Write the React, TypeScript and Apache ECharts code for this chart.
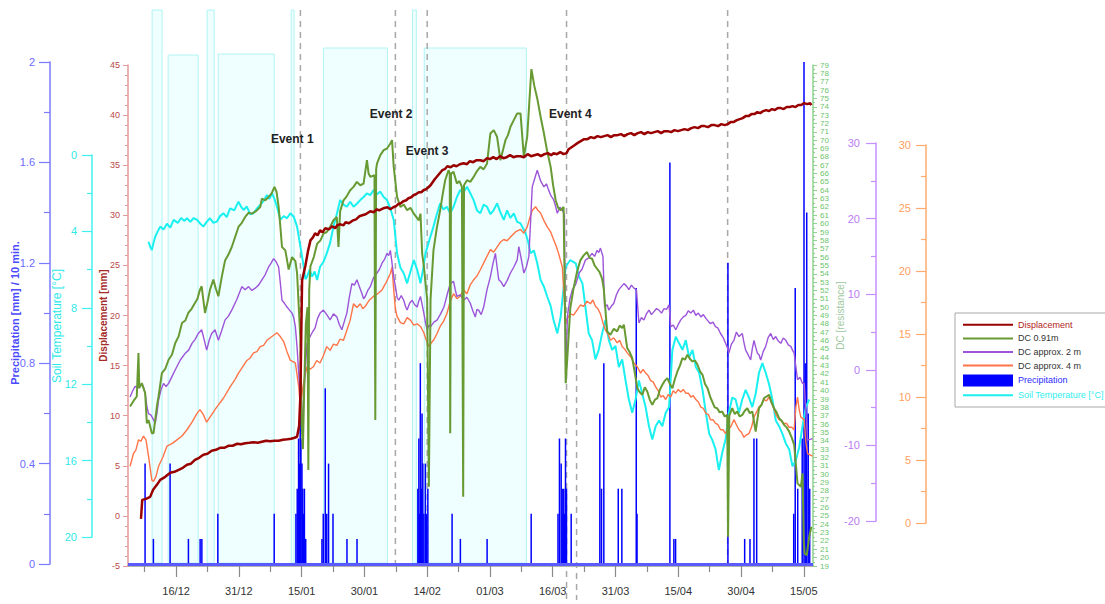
import React, { useEffect, useRef } from 'react';
import * as echarts from 'echarts';

const FONT = '"Liberation Sans", Arial, sans-serif';

// x values are days counted from 16/12
const X_MIN = -11.5;
const X_MAX = 152.2;
const majorDays = [0, 15, 30, 45, 60, 75, 90, 105, 120, 135, 150];
const dateLabels = ['16/12', '31/12', '15/01', '30/01', '14/02', '01/03', '16/03', '31/03', '15/04', '30/04', '15/05'];
const minorDays = [-7.5, 7.5, 22.5, 37.5, 52.5, 67.5, 82.5, 97.5, 112.5, 127.5, 142.5];

// Displacement [mm]
const displacement = [
  [-8.4, -0.3], [-8.1, 1.6], [-7.2, 1.7], [-6.2, 1.9], [-5.5, 2.6], [-4.6, 3.1], [-3.8, 3.6], [-2.6, 3.9], [-1.4, 4.3],
  [-0.4, 4.4], [0.6, 4.6], [1.6, 4.8], [2.6, 5.1], [3.5, 5.2], [4.5, 5.6], [5.5, 5.8], [6.5, 6.1], [7.5, 6.2], [8.5, 6.5],
  [9.5, 6.6], [10.5, 6.8], [11.5, 6.8], [12.5, 7.0], [13.5, 7.0], [14.6, 7.2], [15.5, 7.15], [16.5, 7.25], [17.5, 7.3],
  [18.4, 7.35], [19.5, 7.3], [20.5, 7.4], [21.5, 7.5], [22.5, 7.45], [23.5, 7.5], [24.5, 7.5], [25.5, 7.6], [26.6, 7.65],
  [27.5, 7.7], [28.3, 7.8], [28.9, 7.9], [29.4, 9.0], [29.7, 12.0], [29.9, 18.0], [30.1, 23.5],
  [30.9, 25.0], [31.5, 26.4], [32.1, 27.5], [32.7, 27.8], [33.2, 28.2], [33.8, 28.0], [34.4, 28.5], [35.0, 28.3],
  [35.6, 28.7], [36.5, 28.6], [37.3, 28.9], [38.0, 28.7], [38.5, 29.0], [39.3, 29.1], [40.0, 29.0], [40.5, 29.3],
  [41.3, 29.2], [42.3, 29.5], [43.0, 29.6], [43.8, 29.9], [44.5, 30.0], [45.3, 30.1], [46.4, 30.4], [47.2, 30.3],
  [48.0, 30.6], [48.5, 30.5], [49.5, 30.7], [50.5, 30.8], [51.2, 30.6], [51.9, 30.8], [52.5, 30.9], [53.0, 31.1],
  [53.7, 31.2], [54.3, 31.4], [55.0, 31.5], [55.5, 31.7], [56.2, 31.8], [56.7, 32.0], [57.3, 32.1], [58.0, 32.3],
  [58.6, 32.3], [59.1, 32.5], [59.7, 32.6], [60.3, 32.8], [60.8, 33.0], [61.3, 33.3], [61.8, 33.6], [62.4, 33.9],
  [63.0, 34.2], [63.6, 34.5], [64.2, 34.6], [64.8, 34.9], [65.6, 34.8], [66.3, 35.0], [67.0, 34.9], [67.8, 35.1],
  [68.7, 35.2], [69.5, 35.1], [70.2, 35.4], [71.0, 35.3], [71.8, 35.5], [72.7, 35.5], [73.5, 35.4], [74.3, 35.7],
  [75.0, 35.6], [75.8, 35.8], [76.6, 35.6], [77.4, 35.9], [78.2, 35.7], [79.0, 35.8], [79.8, 36.0], [80.6, 35.8],
  [81.4, 35.9], [82.3, 35.9], [83.1, 35.8], [84.0, 36.1], [84.8, 35.9], [85.6, 36.0], [86.4, 36.1], [87.2, 35.9],
  [88.0, 36.1], [88.8, 36.2], [89.6, 36.0], [90.2, 36.2], [91.0, 36.1], [91.8, 36.3], [92.6, 36.1], [93.3, 36.2],
  [93.8, 36.6], [94.5, 36.8], [95.2, 37.0], [95.9, 37.2], [96.7, 37.4], [97.5, 37.6], [98.3, 37.6], [99.1, 37.8],
  [99.9, 37.7], [100.7, 37.9], [101.5, 37.8], [102.3, 37.9], [103.1, 38.0], [103.9, 37.8], [104.7, 38.0], [105.5, 38.0],
  [106.3, 38.1], [107.1, 37.9], [107.9, 38.1], [108.7, 38.2], [109.5, 38.0], [110.3, 38.2], [111.1, 38.3], [111.9, 38.1],
  [112.7, 38.3], [113.5, 38.2], [114.3, 38.3], [115.1, 38.4], [115.9, 38.2], [116.7, 38.4], [117.5, 38.4], [118.3, 38.3],
  [119.1, 38.5], [119.9, 38.4], [120.7, 38.5], [121.5, 38.6], [122.3, 38.5], [123.1, 38.7], [123.9, 38.8], [124.7, 38.7],
  [125.5, 38.9], [126.3, 38.9], [127.1, 38.8], [127.9, 39.0], [128.7, 39.0], [129.5, 38.9], [130.3, 39.1], [131.1, 39.0],
  [131.8, 39.1], [132.5, 39.3], [133.2, 39.3], [134.0, 39.5], [134.7, 39.6], [135.4, 39.7], [136.1, 39.9], [136.8, 39.9],
  [137.5, 40.1], [138.2, 40.1], [138.9, 40.3], [139.6, 40.2], [140.3, 40.4], [141.0, 40.5], [141.7, 40.4], [142.4, 40.6],
  [143.1, 40.5], [143.8, 40.7], [144.5, 40.7], [145.2, 40.6], [145.9, 40.8], [146.6, 40.8], [147.3, 40.9], [148.0, 40.8],
  [148.7, 41.0], [149.4, 41.0], [150.1, 41.2], [150.8, 41.1], [151.5, 41.2], [151.8, 41.0],
];

// DC 0.91m [resistance]
const dc091 = [
  [-11.0, 38.1], [-10.0, 38.9], [-9.4, 39.3], [-9.0, 44.5], [-8.8, 40.3], [-8.2, 40.9], [-7.4, 39.7], [-7.0, 36.1],
  [-6.6, 36.5], [-5.8, 34.9], [-5.4, 34.9], [-4.6, 38.1], [-4.2, 39.3], [-3.4, 42.1], [-2.6, 42.6], [-1.8, 43.7],
  [-1.0, 44.3], [-0.2, 45.7], [0.6, 46.5], [1.4, 48.1], [2.2, 48.4], [2.9, 49.3], [3.7, 49.8], [4.5, 50.5], [5.1, 51.0],
  [5.7, 52.1], [6.1, 52.5], [6.5, 50.9], [6.9, 49.3], [7.5, 50.6], [8.1, 52.1], [8.9, 53.3], [9.5, 52.2], [10.1, 51.3],
  [10.9, 53.6], [11.7, 55.6], [12.5, 56.3], [13.3, 57.2], [14.1, 58.4], [14.9, 59.6], [15.7, 60.1], [16.5, 60.8],
  [17.3, 61.3], [18.1, 61.2], [19.1, 61.5], [20.1, 62.0], [20.5, 63.0], [21.3, 62.8], [22.1, 63.2], [22.8, 63.6],
  [23.5, 64.4], [24.0, 63.8], [24.5, 62.0], [24.9, 59.7], [25.3, 57.2], [26.1, 56.8], [26.9, 54.5], [27.7, 56.0],
  [28.5, 55.5], [28.9, 54.1], [29.7, 46.1], [30.0, 36.0], [30.3, 33.0], [30.6, 40.0], [31.0, 48.0], [31.4, 50.0],
  [31.6, 30.5], [31.8, 52.0], [32.1, 54.9], [32.9, 56.0], [33.7, 57.6], [34.5, 58.0], [35.2, 58.8], [36.0, 59.0],
  [36.8, 59.6], [37.6, 60.4], [38.4, 60.8], [38.8, 57.2], [39.2, 61.5], [40.0, 62.8], [40.8, 63.3], [41.6, 64.0],
  [42.4, 64.4], [43.2, 65.0], [44.0, 64.6], [44.8, 64.8], [45.6, 67.6], [46.0, 66.0], [46.4, 65.6], [47.4, 65.8],
  [47.6, 36.5], [47.8, 66.5], [48.0, 67.2], [48.8, 68.2], [49.6, 68.8], [50.4, 69.0], [51.2, 69.6], [51.6, 70.0],
  [52.0, 66.8], [52.8, 63.2], [53.6, 62.0], [54.4, 62.3], [55.2, 61.6], [56.0, 61.9], [56.8, 61.2], [58.0, 60.4],
  [58.4, 61.2], [58.8, 56.4], [59.2, 54.9], [60.0, 50.9], [60.4, 28.5], [60.8, 50.9], [61.5, 56.8], [62.3, 59.5],
  [63.1, 61.6], [63.7, 63.5], [64.3, 65.2], [65.1, 66.4], [65.4, 66.0], [65.5, 34.9], [65.7, 66.0], [66.3, 66.2],
  [67.1, 64.8], [67.7, 65.1], [68.3, 64.4], [68.6, 27.3], [68.8, 64.6], [69.5, 65.2], [70.3, 65.0], [71.1, 65.6],
  [71.9, 66.3], [72.7, 66.8], [73.5, 66.5], [74.3, 67.2], [75.1, 70.8], [75.9, 71.2], [76.7, 70.4], [77.5, 67.6],
  [78.1, 68.8], [78.7, 70.0], [79.3, 70.6], [79.9, 71.6], [80.7, 72.4], [81.5, 73.2], [82.3, 73.2], [83.1, 68.0],
  [83.9, 70.4], [84.4, 74.5], [84.9, 78.5], [85.6, 76.5], [86.3, 75.0], [87.1, 72.8], [87.9, 70.8], [88.7, 68.6],
  [89.5, 66.8], [90.1, 64.6], [90.7, 62.8], [91.3, 61.9], [91.9, 61.6], [92.6, 62.0],
  [93.0, 46.9], [93.1, 40.9], [93.5, 44.0], [94.2, 49.9], [95.0, 52.3], [95.8, 54.2], [96.6, 55.6], [97.4, 56.2],
  [98.2, 56.6], [98.8, 55.9], [99.4, 55.8], [100.0, 55.0], [100.6, 54.6], [101.2, 54.2], [101.8, 53.4], [102.2, 52.2],
  [103.0, 47.1], [103.8, 46.7], [104.6, 47.4], [105.4, 47.1], [106.0, 47.8], [106.6, 47.5], [107.0, 47.9], [107.8, 45.1],
  [108.4, 44.6], [109.0, 43.9], [109.6, 42.2], [110.2, 40.3], [110.8, 39.8], [111.4, 39.5], [112.0, 40.4], [112.6, 39.9],
  [113.2, 38.9], [113.8, 38.3], [114.4, 38.9], [115.0, 39.1], [115.6, 40.1], [116.2, 40.7], [116.8, 41.2], [117.4, 41.5],
  [118.0, 40.8], [118.6, 40.3], [119.2, 41.4], [119.8, 42.3], [120.4, 43.0], [121.0, 43.9], [121.6, 43.7], [122.2, 44.3],
  [122.8, 43.8], [123.4, 43.5], [124.0, 43.6], [124.6, 43.1], [125.2, 42.3], [125.8, 41.9], [126.4, 40.8], [127.0, 40.3],
  [127.6, 39.3], [128.1, 38.7], [128.7, 38.0], [129.3, 37.9], [129.9, 37.4], [130.5, 37.5], [131.1, 36.9], [131.7, 37.1],
  [131.9, 22.5], [132.2, 37.0], [132.9, 37.9], [133.5, 37.2], [134.1, 37.5], [134.7, 36.9], [135.3, 37.1], [135.9, 37.6],
  [136.5, 37.9], [137.1, 37.3], [137.7, 37.5], [138.5, 35.1], [139.3, 37.9], [139.9, 38.3], [140.5, 39.1], [141.1, 39.3],
  [141.7, 39.5], [142.3, 38.6], [142.9, 37.9], [143.5, 37.4], [144.1, 36.7], [144.7, 36.4], [145.3, 35.9], [145.9, 35.6],
  [146.5, 35.1], [147.1, 34.4], [147.7, 33.5], [148.1, 31.2], [148.5, 28.9], [149.3, 28.5], [149.7, 30.1],
  [150.0, 22.0], [150.2, 20.5], [150.7, 20.3], [151.3, 22.5], [151.8, 23.7],
];

// DC approx. 2 m
const dc2m = [
  [-11.0, -3.6], [-10.4, -2.8], [-9.8, -2.2], [-9.0, -2.4], [-8.2, -1.8], [-7.8, -2.3], [-7.4, -3.1], [-7.0, -4.8],
  [-6.6, -5.8], [-6.0, -6.0], [-5.4, -6.6], [-5.0, -7.1], [-4.6, -5.8], [-4.2, -4.0], [-3.6, -2.6], [-3.0, -1.8],
  [-2.4, -2.2], [-1.8, -1.8], [-1.0, -0.9], [-0.2, 0.0], [1.0, 1.3], [2.2, 2.2], [3.0, 2.6], [3.8, 3.5], [4.5, 4.0],
  [5.3, 4.8], [6.1, 5.3], [6.7, 4.0], [7.3, 2.6], [7.9, 3.9], [8.5, 4.8], [9.3, 5.3], [10.1, 3.9], [10.9, 5.2],
  [11.7, 6.6], [12.5, 7.1], [13.3, 7.9], [14.5, 9.3], [15.7, 11.0], [16.5, 10.6], [17.3, 11.0], [18.1, 10.5],
  [18.9, 10.8], [19.7, 11.2], [20.5, 11.9], [21.3, 12.6], [22.1, 13.6], [22.7, 14.1], [23.3, 14.7], [23.9, 14.3],
  [24.5, 13.6], [24.9, 11.5], [25.3, 9.2], [25.9, 8.8], [26.5, 8.3], [27.1, 7.9], [27.7, 7.5], [28.1, 6.9], [28.5, 5.7],
  [28.9, 3.0], [29.3, -0.5], [29.7, -4.0], [30.1, -7.1], [30.5, -3.5], [30.9, 0.5], [31.3, 3.5], [32.1, 4.5],
  [32.7, 5.1], [33.2, 5.5], [33.8, 6.8], [34.4, 7.5], [35.2, 7.9], [36.0, 7.3], [36.8, 6.6], [37.6, 7.4], [38.4, 7.0],
  [39.0, 6.0], [39.6, 5.3], [40.2, 6.4], [40.8, 7.5], [41.4, 9.6], [42.0, 11.4], [42.6, 11.2], [43.2, 11.9],
  [43.8, 11.0], [44.4, 10.1], [44.8, 9.4], [45.2, 9.7], [45.8, 10.5], [46.4, 11.0], [47.2, 12.2], [48.0, 12.8],
  [48.6, 13.3], [49.2, 14.1], [49.8, 14.6], [50.4, 15.4], [50.8, 15.1], [51.2, 15.8], [51.6, 14.1], [52.0, 12.3],
  [52.4, 11.0], [52.8, 9.6], [53.2, 9.2], [53.8, 9.8], [54.4, 9.2], [54.8, 8.4], [55.2, 7.9], [55.8, 8.8], [56.4, 9.2],
  [57.0, 8.6], [57.6, 8.3], [58.0, 9.1], [58.4, 9.7], [58.8, 8.6], [59.2, 7.5], [59.6, 6.2], [60.0, 5.3], [60.4, 5.9],
  [60.8, 5.7], [61.6, 6.3], [62.4, 6.6], [63.2, 7.4], [64.0, 8.3], [64.8, 10.0], [65.5, 11.4], [66.3, 11.7],
  [66.7, 10.6], [67.1, 9.7], [67.9, 9.9], [68.7, 9.2], [69.5, 9.6], [70.3, 8.8], [70.9, 7.8], [71.5, 7.0], [71.9, 8.0],
  [72.3, 7.9], [72.9, 7.3], [73.5, 8.3], [74.3, 10.6], [75.1, 12.3], [75.7, 14.0], [76.3, 15.4], [76.7, 13.6],
  [77.1, 11.9], [77.7, 11.6], [78.3, 11.0], [79.1, 11.8], [79.9, 12.8], [80.7, 13.6], [81.5, 14.5], [81.9, 16.3],
  [82.5, 14.6], [83.1, 12.8], [83.7, 13.6], [84.3, 15.0], [84.7, 19.5], [85.1, 24.2], [85.7, 25.3], [86.3, 26.4],
  [87.1, 25.0], [87.9, 24.2], [88.5, 24.6], [89.0, 23.8], [89.6, 23.0], [90.2, 22.5], [90.6, 21.8], [91.1, 20.7],
  [91.7, 21.5], [92.3, 21.1], [92.8, 20.5],
  [93.1, -1.7], [93.5, 7.0], [94.1, 9.4], [94.7, 10.6], [95.5, 11.3], [96.3, 12.8], [97.0, 13.3], [97.8, 14.5],
  [98.6, 14.8], [99.4, 15.4], [100.0, 15.0], [100.6, 15.8], [101.0, 15.5], [101.4, 16.1], [102.0, 15.0], [102.4, 8.3],
  [103.0, 8.6], [103.4, 7.9], [104.0, 8.4], [104.6, 8.8], [105.2, 9.9], [105.8, 10.6], [106.4, 11.0], [107.0, 11.4],
  [107.6, 11.1], [108.2, 10.6], [108.8, 11.2], [109.4, 10.8], [110.0, 10.6], [110.6, 6.2], [111.2, 6.9], [111.8, 6.6],
  [112.4, 7.4], [113.0, 7.9], [113.6, 7.3], [114.2, 7.7], [114.8, 8.1], [115.4, 7.9], [116.0, 7.5], [116.6, 8.1],
  [117.2, 8.0], [117.8, 8.6], [118.2, 5.7], [118.8, 5.9], [119.4, 5.3], [120.0, 6.0], [120.6, 6.6], [121.2, 7.0],
  [121.8, 7.2], [122.4, 7.8], [123.0, 7.5], [123.6, 7.9], [124.2, 7.2], [124.8, 7.5], [125.4, 7.0], [126.0, 7.3],
  [126.6, 6.8], [127.2, 6.4], [127.7, 6.1], [128.3, 6.3], [128.9, 5.7], [129.5, 5.5], [130.1, 4.8], [130.7, 4.3],
  [131.3, 3.5], [131.7, 3.0], [132.1, 2.2], [132.7, 3.4], [133.3, 3.9], [133.9, 5.0], [134.5, 4.4], [135.3, 4.8],
  [135.7, 3.6], [136.1, 2.6], [136.7, 2.0], [137.3, 1.3], [137.7, 2.8], [138.1, 3.9], [138.5, 3.0], [138.9, 2.2],
  [139.3, 2.0], [139.7, 1.3], [140.3, 2.4], [140.9, 3.1], [141.5, 4.3], [142.1, 4.8], [142.7, 4.0], [143.3, 4.4],
  [143.9, 3.8], [144.5, 3.5], [145.1, 4.2], [145.7, 3.9], [146.3, 3.3], [146.9, 3.1], [147.3, 2.6], [147.7, 2.2],
  [148.1, 0.4], [148.5, -1.3], [149.1, -1.0], [149.7, -1.8], [150.1, -1.8], [150.9, -9.3], [152.1, -9.1],
];

// DC approx. 4 m
const dc4m = [
  [-11.0, 4.5], [-10.6, 5.0], [-10.2, 5.5], [-9.6, 5.8], [-9.0, 6.6], [-8.4, 6.5], [-7.8, 6.9], [-7.2, 6.6],
  [-6.6, 5.3], [-5.8, 3.4], [-5.4, 3.3], [-4.8, 3.7], [-4.2, 4.5], [-3.2, 5.2], [-2.2, 6.1], [-1.0, 6.3], [0.2, 6.6],
  [1.4, 6.9], [2.6, 7.4], [3.8, 8.0], [5.0, 8.7], [5.7, 9.0], [6.5, 8.6], [7.3, 8.0], [8.5, 8.6], [9.7, 9.2],
  [11.3, 9.9], [12.9, 10.8], [14.1, 11.4], [14.9, 11.9], [15.7, 12.3], [16.9, 12.9], [17.7, 13.1], [18.5, 13.5],
  [19.3, 13.6], [20.1, 14.0], [20.9, 14.1], [21.7, 14.5], [22.9, 14.8], [24.1, 15.1], [24.9, 14.8], [25.7, 14.4],
  [26.5, 13.6], [27.3, 12.9], [28.5, 12.7], [29.3, 10.8], [29.7, 9.2], [30.1, 10.3], [30.7, 11.6], [31.3, 12.4],
  [32.0, 12.2], [32.8, 12.4], [33.6, 12.9], [34.4, 12.7], [35.2, 13.3], [36.0, 14.0], [36.8, 13.7], [37.6, 14.2],
  [38.4, 14.1], [39.2, 14.6], [40.0, 14.5], [40.8, 15.3], [41.6, 16.1], [42.4, 17.4], [43.2, 17.1], [44.0, 17.4],
  [44.6, 17.0], [45.2, 17.2], [46.2, 17.7], [47.2, 18.0], [48.2, 18.2], [49.2, 18.5], [50.2, 19.1], [51.2, 19.8],
  [51.6, 20.3], [52.0, 18.5], [52.4, 17.0], [52.8, 16.4], [53.6, 15.9], [54.4, 15.8], [55.2, 16.3], [56.0, 16.1],
  [56.8, 15.7], [57.6, 15.8], [58.4, 15.6], [59.2, 15.1], [59.8, 14.5], [60.4, 14.0], [61.0, 14.3], [61.5, 14.5],
  [62.3, 15.0], [63.1, 15.6], [63.9, 16.0], [64.7, 16.6], [65.5, 17.6], [66.3, 18.2], [67.1, 17.8], [67.9, 18.0],
  [68.7, 18.5], [69.5, 18.2], [70.3, 18.9], [71.1, 19.3], [71.9, 19.6], [72.7, 20.1], [73.9, 20.9], [75.1, 21.7],
  [75.9, 21.5], [76.7, 21.9], [77.5, 22.3], [78.3, 22.5], [79.1, 22.4], [79.9, 22.7], [81.1, 23.1], [82.3, 23.3],
  [83.1, 23.0], [83.9, 23.5], [84.5, 24.2], [85.1, 24.8], [85.9, 25.1], [86.5, 24.8], [87.1, 24.6], [87.9, 24.0],
  [88.7, 23.5], [89.5, 23.1], [90.2, 22.5], [90.8, 22.0], [91.4, 21.4], [92.3, 20.3],
  [93.1, 15.8], [93.6, 16.3], [94.2, 16.6], [95.0, 16.5], [95.8, 16.9], [96.6, 17.3], [97.4, 17.2], [98.2, 17.6],
  [99.0, 17.4], [99.6, 17.7], [100.2, 17.2], [100.8, 17.0], [101.4, 16.6], [102.0, 15.9], [102.6, 15.3], [103.2, 15.0],
  [103.8, 14.5], [104.6, 14.7], [105.4, 14.3], [106.0, 14.5], [106.6, 14.0], [107.2, 13.8], [107.8, 13.5], [108.6, 13.2],
  [109.4, 12.7], [110.2, 12.4], [111.0, 11.9], [111.6, 12.2], [112.2, 11.9], [112.8, 11.7], [113.4, 11.3], [114.0, 11.2],
  [114.6, 10.8], [115.2, 10.5], [115.8, 10.0], [116.4, 10.1], [117.0, 9.8], [117.6, 10.2], [118.2, 10.0], [118.8, 10.5],
  [119.4, 10.3], [120.0, 10.6], [120.6, 10.4], [121.2, 10.6], [121.8, 10.3], [122.4, 10.3], [123.0, 10.0], [123.6, 10.1],
  [124.2, 9.8], [124.8, 9.6], [125.4, 9.2], [126.0, 9.1], [126.6, 8.7], [127.2, 8.6], [127.7, 8.2], [128.3, 8.2],
  [128.9, 7.9], [129.5, 7.8], [130.1, 7.4], [130.7, 7.4], [131.3, 7.1], [131.9, 7.5], [132.5, 7.6], [133.3, 8.2],
  [133.9, 7.8], [134.5, 7.4], [135.1, 7.2], [135.7, 6.8], [136.3, 7.0], [136.9, 7.1], [137.5, 7.6], [138.1, 8.4],
  [138.7, 8.8], [139.3, 9.2], [139.9, 9.4], [140.5, 9.8], [141.1, 9.7], [141.7, 10.0], [142.3, 9.5], [142.9, 9.0],
  [143.5, 8.5], [144.1, 8.2], [144.7, 8.1], [145.3, 7.9], [145.9, 7.9], [146.5, 7.6], [147.1, 7.6], [147.7, 7.4],
  [148.1, 9.2], [148.5, 10.0], [148.9, 9.0], [149.3, 8.4], [150.1, 8.2], [150.5, 6.4], [150.9, 5.5], [152.1, 5.3],
];

// Soil temperature [°C]
const soilTemp = [
  [-6.6, 4.54], [-6.2, 4.8], [-5.8, 4.97], [-5.4, 4.6], [-5.0, 4.28], [-4.4, 4.0], [-3.8, 3.75], [-3.0, 3.9],
  [-2.2, 3.6], [-1.4, 3.8], [-0.6, 3.4], [0.4, 3.55], [1.2, 3.3], [2.0, 3.45], [2.6, 3.31], [3.4, 3.5], [4.2, 3.3],
  [5.0, 3.4], [5.8, 3.6], [6.5, 3.75], [7.3, 3.5], [8.1, 3.31], [8.9, 3.55], [9.7, 3.49], [10.5, 3.2], [11.3, 3.05],
  [12.1, 3.25], [12.9, 2.79], [13.9, 2.9], [14.9, 2.44], [15.5, 2.7], [16.1, 2.88], [16.9, 2.7], [17.7, 3.1],
  [18.5, 3.05], [19.3, 2.8], [20.1, 2.62], [20.9, 2.4], [21.7, 2.09], [22.3, 2.3], [22.9, 2.01], [23.5, 2.3],
  [24.1, 2.71], [24.9, 3.4], [25.7, 3.2], [26.5, 3.31], [27.3, 3.05], [28.1, 3.23], [28.9, 3.75], [29.7, 4.8],
  [30.5, 5.85], [30.9, 6.5], [31.3, 6.37], [31.9, 6.0], [32.5, 6.37], [33.1, 6.1], [33.7, 6.54], [34.4, 5.85],
  [35.2, 5.6], [36.0, 5.15], [36.8, 4.6], [37.6, 3.75], [38.4, 3.1], [39.2, 2.36], [40.0, 2.6], [40.8, 2.71],
  [41.6, 2.45], [42.4, 2.71], [43.2, 2.55], [44.0, 2.36], [44.8, 2.2], [45.6, 2.01], [46.4, 2.1], [47.2, 1.83],
  [48.0, 2.05], [48.8, 1.92], [49.6, 2.2], [50.4, 2.36], [51.2, 2.8], [52.0, 3.4], [52.8, 5.15], [53.6, 5.9],
  [54.4, 6.19], [55.2, 6.72], [56.0, 6.1], [56.8, 5.5], [57.6, 6.0], [58.4, 6.72], [59.0, 6.0], [59.6, 5.15],
  [60.6, 4.4], [61.5, 3.75], [62.3, 3.1], [63.1, 2.53], [63.9, 2.85], [64.7, 2.71], [65.5, 3.05], [66.3, 2.71],
  [67.1, 2.2], [67.9, 1.83], [68.7, 1.95], [69.5, 1.66], [70.3, 2.0], [71.1, 2.36], [71.9, 2.9], [72.7, 3.05],
  [73.5, 2.6], [74.3, 2.71], [75.1, 3.1], [75.9, 2.88], [76.7, 2.53], [77.5, 3.0], [78.3, 3.4], [79.1, 2.9],
  [79.9, 3.3], [80.7, 3.05], [81.5, 3.5], [82.3, 3.58], [83.5, 4.1], [84.1, 4.5], [84.7, 5.15], [85.5, 5.0],
  [86.3, 5.67], [87.1, 6.54], [87.9, 6.9], [88.7, 7.42], [89.5, 7.9], [90.2, 8.64], [91.1, 9.34], [91.9, 8.47],
  [93.1, 5.85], [94.2, 5.5], [95.5, 5.67], [96.3, 6.37], [97.1, 6.72], [97.8, 7.94], [98.6, 9.34], [99.4, 9.69],
  [100.2, 10.7], [101.0, 10.2], [101.8, 9.34], [102.6, 8.64], [103.4, 9.69], [104.2, 10.2], [105.0, 10.0], [105.8, 11.1],
  [106.6, 10.7], [107.4, 11.8], [108.2, 12.8], [109.0, 13.5], [109.8, 12.8], [110.6, 11.8], [111.4, 12.5], [112.2, 13.2],
  [113.0, 14.2], [113.8, 14.9], [114.6, 14.2], [115.4, 13.9], [116.2, 14.2], [117.0, 13.5], [117.8, 13.2], [118.6, 10.2],
  [119.4, 9.51], [120.2, 9.86], [121.0, 10.2], [121.8, 9.69], [122.6, 10.6], [123.4, 10.2], [124.2, 11.1], [125.0, 11.4],
  [125.8, 12.3], [126.6, 13.5], [127.4, 14.6], [128.1, 14.9], [128.9, 15.4], [129.7, 16.5], [130.5, 15.6], [131.3, 14.9],
  [132.1, 13.5], [132.9, 12.7], [133.7, 12.8], [134.5, 13.5], [135.3, 12.8], [136.1, 12.3], [136.9, 12.7], [137.7, 13.2],
  [138.5, 12.5], [139.3, 11.4], [140.1, 10.9], [140.9, 11.4], [141.7, 12.0], [142.5, 12.8], [143.3, 13.9], [144.1, 14.2],
  [144.9, 14.6], [145.7, 15.1], [146.5, 15.4], [147.3, 16.3], [148.1, 16.0], [148.9, 15.3], [149.7, 14.2], [150.5, 13.2],
  [151.3, 12.8],
];

// Precipitation [mm] / 10 min.
const precipitation = [
  [-7.42, 0.4], [-5.43, 0.1], [-1.44, 0.4], [2.94, 0.1], [5.74, 0.1], [6.15, 0.1], [9.97, 0.2], [23.44, 0.2],
  [28.63, 0.2], [28.94, 0.3], [29.26, 0.5], [29.43, 0.4], [29.66, 0.6], [29.83, 0.5], [30.07, 0.4], [30.26, 0.3],
  [30.45, 0.2], [30.66, 0.3], [30.97, 0.1], [34.85, 0.1], [35.16, 0.2], [35.64, 0.7], [36.0, 0.2], [36.43, 0.4],
  [37.49, 0.2], [40.83, 0.1], [43.23, 0.1], [57.77, 0.3], [58.01, 0.5], [58.2, 0.2], [58.36, 0.8], [58.6, 0.3],
  [58.77, 0.6], [58.96, 0.4], [59.2, 0.2], [59.56, 0.4], [59.8, 0.2], [60.16, 0.3], [65.95, 0.2], [67.93, 0.1],
  [74.32, 0.1], [84.85, 0.2], [91.26, 0.2], [91.61, 0.5], [92.02, 0.4], [92.26, 0.3], [92.45, 0.2], [92.64, 0.3],
  [92.85, 0.2], [93.05, 0.5], [93.29, 0.3], [94.41, 0.2], [101.26, 0.6], [101.66, 0.3], [102.21, 0.8], [105.66, 0.3],
  [106.52, 0.3], [109.96, 1.1], [110.15, 0.2], [118.0, 1.6], [118.95, 0.1], [119.36, 0.1], [131.87, 1.2], [135.87, 0.1],
  [137.14, 0.1], [138.09, 0.5], [138.74, 0.5], [147.59, 0.2], [147.95, 1.1], [148.55, 0.3], [149.62, 0.5], [150.05, 2.0],
  [150.34, 0.8], [150.7, 1.4], [151.06, 0.6], [151.41, 0.3],
];

// shaded periods on the overlay scale: [startDay, endDay, topLevel, bottomLevel]
const shadedPeriods = [
  [-5.74, -3.35, 59, 3.7], [-1.91, 5.26, 54.5, 3.7], [7.42, 9.09, 59, 3.7], [10.05, 23.44, 54.6, 3.7],
  [27.5, 28.2, 59, 3.7], [35.2, 50.5, 55.2, 3.7], [56.5, 57.4, 59, 3.7], [59.3, 83.7, 55.2, 3.7],
];
// dashed event markers: [day, topLevel, bottomLevel]
const eventLines = [
  [29.7, 59, 3.7], [52.4, 59, 3.7], [60.0, 59, 3.7], [93.3, 59, 0], [95.7, 25.8, 0], [131.8, 59, 3.7],
];
const eventNames = ['Event 1', 'Event 2', 'Event 3', 'Event 4'];
const eventLabelPos = [[27.75, 46.1], [51.4, 48.6], [60.0, 44.9], [94.2, 48.6]];

const GRID_LR = { left: 128, right: 292 };

function hiddenX(gridIndex: number) {
  return { type: 'value', gridIndex, min: X_MIN, max: X_MAX, show: false };
}

function buildOption() {
  const grids = [
    { ...GRID_LR, top: 65, bottom: 38 },   // 0 displacement + DC 0.91m
    { ...GRID_LR, top: 155, bottom: 67 },  // 1 soil temperature
    { ...GRID_LR, top: 143, bottom: 83 },  // 2 DC approx 2 m
    { ...GRID_LR, top: 145, bottom: 81 },  // 3 DC approx 4 m
    { ...GRID_LR, top: 10, bottom: 4 },    // 4 overlay (shading, events)
    { ...GRID_LR, top: 62, bottom: 40 },   // 5 precipitation
  ].map((g) => ({ ...g, outerBoundsMode: 'none', containLabel: false }));

  const xAxis = [
    {
      type: 'value', gridIndex: 0, min: X_MIN, max: X_MAX, position: 'bottom',
      axisLine: { show: true, onZero: false, lineStyle: { color: '#9a9a9a', width: 1.5 } },
      axisTick: { show: true, customValues: majorDays, length: 11, lineStyle: { color: '#8a8a8a', width: 1.2 } },
      axisLabel: {
        show: true, customValues: majorDays, margin: 19, color: '#333', fontSize: 11, fontFamily: FONT,
        formatter: (v: number) => dateLabels[majorDays.indexOf(Math.round(v))] ?? '',
      },
      splitLine: { show: false },
    },
    {
      type: 'value', gridIndex: 0, min: X_MIN, max: X_MAX, position: 'bottom',
      axisLine: { show: false, onZero: false },
      axisTick: { show: true, customValues: minorDays, length: 6, lineStyle: { color: '#8a8a8a', width: 1.2 } },
      axisLabel: { show: false },
      splitLine: { show: false },
    },
    hiddenX(1), hiddenX(2), hiddenX(3), hiddenX(4), hiddenX(5),
  ];

  const nameCommon = { nameLocation: 'middle', nameMoveOverlap: false };
  const yAxis = [
    { // 0 displacement
      type: 'value', gridIndex: 0, position: 'left', min: -5, max: 45, interval: 5,
      name: 'Displacement [mm]', ...nameCommon, nameGap: 20,
      nameTextStyle: { color: '#a52a2a', fontWeight: 'bold', fontSize: 10, fontFamily: FONT },
      axisLine: { show: true, onZero: false, lineStyle: { color: '#e39a9a', width: 1.5 } },
      axisTick: { show: true, length: 5, lineStyle: { color: '#e39a9a' } },
      minorTick: { show: true, splitNumber: 5, length: 3, lineStyle: { color: '#e39a9a' } },
      axisLabel: { color: '#b94a4a', fontSize: 9, margin: 8, fontFamily: FONT },
      splitLine: { show: false }, minorSplitLine: { show: false },
    },
    { // 1 precipitation
      type: 'value', gridIndex: 5, position: 'left', offset: 78, min: 0, max: 2, interval: 0.4,
      name: 'Precipitation [mm] / 10 min.', ...nameCommon, nameGap: 30,
      nameTextStyle: { color: '#4a4aff', fontWeight: 'bold', fontSize: 11, fontFamily: FONT },
      axisLine: { show: true, onZero: false, lineStyle: { color: '#7b7bff', width: 1.5 } },
      axisTick: { show: true, length: 11, lineStyle: { color: '#7b7bff', width: 1.2 } },
      minorTick: { show: true, splitNumber: 2, length: 6, lineStyle: { color: '#7b7bff', width: 1.2 } },
      axisLabel: { color: '#6b6bff', fontSize: 11, margin: 15, fontFamily: FONT },
      splitLine: { show: false }, minorSplitLine: { show: false },
    },
    { // 2 DC 0.91m
      type: 'value', gridIndex: 0, position: 'right', min: 19, max: 79, interval: 1,
      name: 'DC [resistance]', ...nameCommon, nameGap: 22,
      nameTextStyle: { color: '#9ec99e', fontSize: 10, fontFamily: FONT },
      axisLine: { show: true, onZero: false, lineStyle: { color: '#8fd18f', width: 1.5 } },
      axisTick: { show: true, length: 4, lineStyle: { color: '#8fd18f' } },
      minorTick: { show: true, splitNumber: 2, length: 2, lineStyle: { color: '#8fd18f' } },
      axisLabel: { color: '#6cc46c', fontSize: 8, margin: 7, fontFamily: FONT },
      splitLine: { show: false }, minorSplitLine: { show: false },
    },
    { // 3 soil temperature
      type: 'value', gridIndex: 1, position: 'left', offset: 36, min: 0, max: 20, interval: 4, inverse: true,
      name: 'Soil Temperature [°C]', ...nameCommon, nameGap: 29,
      nameTextStyle: { color: '#30e8e8', fontSize: 12, fontFamily: FONT, padding: [0, 0, 0, 40] },
      axisLine: { show: true, onZero: false, lineStyle: { color: '#40f0f0', width: 1.5 } },
      axisTick: { show: true, length: 10, lineStyle: { color: '#40f0f0', width: 1.2 } },
      minorTick: { show: true, splitNumber: 2, length: 5, lineStyle: { color: '#40f0f0', width: 1.2 } },
      axisLabel: { color: '#30e8e8', fontSize: 11, margin: 15, fontFamily: FONT },
      splitLine: { show: false }, minorSplitLine: { show: false },
    },
    { // 4 DC approx 2 m
      type: 'value', gridIndex: 2, position: 'right', offset: 63, min: -20, max: 30, interval: 10,
      axisLine: { show: true, onZero: false, lineStyle: { color: '#c490ff', width: 1.5 } },
      axisTick: { show: true, inside: true, length: 10, lineStyle: { color: '#c490ff', width: 1.2 } },
      minorTick: { show: true, splitNumber: 2, length: 5, lineStyle: { color: '#c490ff', width: 1.2 } },
      axisLabel: { inside: true, color: '#b97cf5', fontSize: 11, margin: 16, fontFamily: FONT },
      splitLine: { show: false }, minorSplitLine: { show: false },
    },
    { // 5 DC approx 4 m
      type: 'value', gridIndex: 3, position: 'right', offset: 113, min: 0, max: 30, interval: 5,
      axisLine: { show: true, onZero: false, lineStyle: { color: '#ffab70', width: 1.5 } },
      axisTick: { show: true, inside: true, length: 10, lineStyle: { color: '#ffab70', width: 1.2 } },
      minorTick: { show: true, splitNumber: 2, length: 5, lineStyle: { color: '#ffab70', width: 1.2 } },
      axisLabel: { inside: true, color: '#ff9f5f', fontSize: 11, margin: 15, fontFamily: FONT },
      splitLine: { show: false }, minorSplitLine: { show: false },
    },
    { // 6 overlay
      type: 'value', gridIndex: 4, min: 0, max: 59, show: false,
    },
  ];

  const lineBase = { type: 'line', symbol: 'none', showSymbol: false, silent: true };

  const series = [
    {
      type: 'custom', name: 'shade', xAxisIndex: 5, yAxisIndex: 6, silent: true, z: 0,
      data: shadedPeriods,
      renderItem: (_p: any, api: any) => {
        const a = api.coord([api.value(0), api.value(2)]);
        const b = api.coord([api.value(1), api.value(3)]);
        return {
          type: 'rect',
          shape: { x: a[0], y: a[1], width: b[0] - a[0], height: b[1] - a[1] },
          style: { fill: '#effefe', stroke: '#b0f4f4', lineWidth: 1 },
        };
      },
    },
    {
      type: 'custom', name: 'events', xAxisIndex: 5, yAxisIndex: 6, silent: true, z: 1,
      data: eventLines,
      renderItem: (_p: any, api: any) => {
        const a = api.coord([api.value(0), api.value(1)]);
        const b = api.coord([api.value(0), api.value(2)]);
        return {
          type: 'line',
          shape: { x1: a[0], y1: a[1], x2: b[0], y2: b[1] },
          style: { stroke: '#a8a8a8', lineWidth: 1.5, lineDash: [6, 5] },
        };
      },
    },
    {
      type: 'bar', name: 'Precipitation', xAxisIndex: 6, yAxisIndex: 1, barWidth: 1.5, silent: true, z: 3,
      itemStyle: { color: '#0000ff' },
      data: precipitation,
      markLine: {
        silent: true, symbol: ['none', 'none'], label: { show: false },
        lineStyle: { color: '#5a5aff', width: 3, type: 'solid' },
        data: [{ yAxis: 0 }],
      },
    },
    { ...lineBase, name: 'Soil Temperature [°C]', xAxisIndex: 2, yAxisIndex: 3, z: 4, data: soilTemp,
      lineStyle: { color: '#1af0f0', width: 2 }, itemStyle: { color: '#1af0f0' } },
    { ...lineBase, name: 'DC approx. 4 m', xAxisIndex: 4, yAxisIndex: 5, z: 5, data: dc4m,
      lineStyle: { color: '#ff7448', width: 1.4 }, itemStyle: { color: '#ff7448' } },
    { ...lineBase, name: 'DC approx. 2 m', xAxisIndex: 3, yAxisIndex: 4, z: 6, data: dc2m,
      lineStyle: { color: '#9c55d9', width: 1.4 }, itemStyle: { color: '#9c55d9' } },
    { ...lineBase, name: 'DC 0.91m', xAxisIndex: 0, yAxisIndex: 2, z: 7, data: dc091,
      lineStyle: { color: '#689a33', width: 2 }, itemStyle: { color: '#689a33' } },
    { ...lineBase, name: 'Displacement', xAxisIndex: 0, yAxisIndex: 0, z: 8, data: displacement,
      lineStyle: { color: '#990000', width: 2.5 }, itemStyle: { color: '#990000' } },
    {
      type: 'custom', name: 'eventLabels', xAxisIndex: 5, yAxisIndex: 6, silent: true, z: 10,
      data: eventLabelPos,
      renderItem: (p: any, api: any) => {
        const pt = api.coord([api.value(0), api.value(1)]);
        return {
          type: 'text', x: pt[0], y: pt[1],
          style: {
            text: eventNames[p.dataIndex], fill: '#222', fontSize: 12, fontWeight: 'bold', fontFamily: FONT,
            align: 'center', verticalAlign: 'middle',
          },
        };
      },
    },
  ];

  const hideSym = { opacity: 0 };
  const legend = {
    orient: 'vertical', left: 955, top: 313, padding: [7, 8, 7, 7], itemWidth: 50, itemHeight: 12, itemGap: 4,
    borderColor: '#a8a8a8', borderWidth: 1, backgroundColor: '#fff', selectedMode: false,
    textStyle: { fontSize: 9, fontFamily: FONT, color: '#333' },
    data: [
      { name: 'Displacement', itemStyle: hideSym, textStyle: { color: '#b22222' } },
      { name: 'DC 0.91m', itemStyle: hideSym, textStyle: { color: '#333' } },
      { name: 'DC approx. 2 m', itemStyle: hideSym, textStyle: { color: '#333' } },
      { name: 'DC approx. 4 m', itemStyle: hideSym, textStyle: { color: '#333' } },
      { name: 'Precipitation', icon: 'rect', textStyle: { color: '#2b2bff' } },
      { name: 'Soil Temperature [°C]', itemStyle: hideSym, textStyle: { color: '#33eeee' } },
    ],
  };

  return {
    animation: false,
    backgroundColor: '#ffffff',
    textStyle: { fontFamily: FONT },
    grid: grids,
    xAxis,
    yAxis,
    legend,
    series,
  };
}

export default function App() {
  const ref = useRef<HTMLDivElement>(null);
  useEffect(() => {
    document.body.style.margin = '0';
    if (!ref.current) return;
    const chart = echarts.init(ref.current, null, { renderer: 'svg' });
    chart.setOption(buildOption() as any);
    return () => chart.dispose();
  }, []);
  return <div ref={ref} style={{ width: 1105, height: 604 }} />;
}
